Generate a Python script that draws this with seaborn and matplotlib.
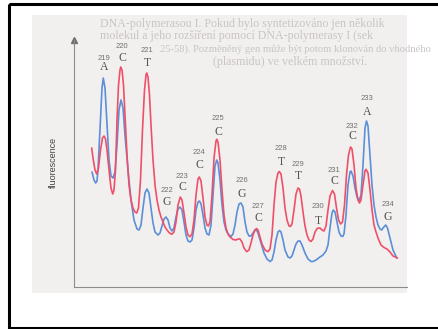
import matplotlib
matplotlib.use("Agg")
import matplotlib.pyplot as plt
import seaborn as sns
import pandas as pd
from matplotlib.patches import Rectangle

# ---------------- data ----------------
blue_pos = [92, 94, 95.7, 97, 98, 100, 102, 103.3, 105, 107, 109, 111, 113, 115, 117, 119, 121, 123, 125, 128,
            131, 134, 137, 139, 141, 143, 145, 147, 149, 151, 153, 155, 158, 160, 162, 164, 166, 168, 170, 172,
            174, 176, 178, 180, 182, 184, 186, 188, 190, 192, 194, 196, 198, 199.5, 201, 203, 205, 207, 209, 211,
            213, 215, 216.7, 218, 220, 222, 224, 226, 228, 231, 233, 235, 237, 239, 241, 243, 245, 247, 249, 251,
            253, 255, 256.5, 258, 261, 264, 267, 270, 272, 274, 276, 278, 279.5, 281, 283, 285, 288, 290, 292, 294,
            296, 298, 300, 302, 305, 308, 311, 313, 316, 320, 323, 326, 328, 330, 332, 333.3, 335, 337, 339, 341,
            342.7, 344, 346, 348, 350, 351, 353, 355, 357, 359, 361, 363, 365, 366.5, 368, 370, 372, 374, 376, 378,
            380, 381.7, 383, 385.7, 387.5, 390, 393, 396.7]
blue_fl = [115, 107, 104, 106, 117, 157, 199, 209, 199, 162, 127, 111, 109, 115, 142, 177, 187, 179, 152, 117,
           87, 67, 58, 57, 62, 79, 94, 98, 94, 79, 64, 55, 52, 54, 61, 68, 70, 67, 59, 56,
           59, 70, 78, 80, 77, 65, 52, 46, 45, 47, 59, 77, 85, 86, 83, 72, 59, 53, 52, 62,
           92, 121, 127, 124, 107, 82, 65, 57, 53, 50.5, 53, 62, 75, 83, 84, 80, 65, 55, 51, 51,
           54, 57, 57, 54, 44, 34, 28, 25.5, 27, 35, 47, 55, 56.5, 55, 47, 37, 30, 29, 31, 37,
           43, 46, 46, 42, 34, 28, 25.5, 25.5, 27, 30, 32, 36, 42, 59, 74, 77, 75, 65, 55, 51,
           50.5, 53, 72, 102, 115, 116, 111, 99, 90, 86, 92, 122, 159, 166, 161, 132, 102, 82, 70, 62,
           58, 57, 59, 62, 59, 49, 37, 29]

red_pos = [91.7, 93, 95, 96.7, 98.5, 100.5, 102.5, 104, 105.5, 107, 109, 111, 112.7, 114, 115.5, 117, 118.5, 120,
           120.7, 122, 123.5, 125, 127, 129, 131, 133, 135, 136.7, 138.5, 140.5, 142.5, 144.5, 146, 146.7, 148,
           149.5, 151, 153, 155, 157, 159, 161, 163, 165, 167, 169.5, 171.7, 174, 176, 178, 180.3, 182, 184, 186,
           188, 190, 192, 194, 196, 198, 199.3, 201, 203, 205, 207, 208.3, 210, 212, 214, 216, 216.7, 218, 220,
           222, 224, 226, 228, 230, 233, 236, 238, 240, 242, 244, 246.7, 249, 251, 253, 255, 256.5, 258, 260,
           262, 265, 268, 270, 272, 274, 276, 278, 279.3, 281, 283, 285, 287, 289, 290.5, 292, 294, 296, 298,
           299.5, 301, 303, 305, 307, 309, 311, 313, 315, 317.3, 320, 322, 324, 326, 328, 330, 332.5, 334.5,
           336.5, 338.5, 340.7, 342.5, 344.5, 346.5, 348.5, 350.5, 352, 354, 356, 358, 359.5, 361, 363, 365, 366,
           368, 370, 372, 374, 376, 378, 381, 384, 387, 390, 393, 397.5]
red_fl = [139, 129, 117, 113, 119, 137, 149, 151, 148, 137, 117, 99, 93, 97, 117, 167, 202, 217,
          220, 217, 202, 172, 132, 102, 87, 79, 75, 74, 79, 107, 157, 197, 212, 214, 210,
          192, 162, 127, 102, 87, 77, 70, 65, 60, 57, 54, 52.7, 55, 65, 82, 90, 87, 74, 60,
          52, 50.3, 53, 67, 92, 108, 110, 106, 89, 70, 62, 61, 65, 92, 129, 146, 147.7, 145, 127,
          97, 72, 59, 53, 50, 47.5, 47, 48, 48, 45, 39, 35.3, 37, 44, 52, 57, 58.5, 57, 50,
          43, 37, 35.3, 38, 52, 82, 105, 114, 115.5, 113, 99, 79, 67, 61, 60.5, 63, 77, 93, 99,
          98, 91, 75, 61, 52, 47, 45.5, 48, 55, 58.7, 59, 57, 56, 61, 77, 91, 96.5, 93,
          79, 67, 63, 65, 82, 112, 132, 140, 138, 122, 99, 87, 84, 87, 102, 116, 117.7,
          114, 97, 77, 62, 55, 49, 42, 39.5, 38, 35, 31, 29]

label_num = ["219", "220", "221", "222", "223", "224", "225", "226", "227", "228", "229", "230", "231", "232", "233", "234"]
label_base = ["A", "C", "T", "G", "C", "C", "C", "G", "C", "T", "T", "T", "C", "C", "A", "G"]
label_x = [104, 122, 147, 167, 182, 199, 218, 242, 258, 281, 298, 318, 334, 352, 367, 388]
label_num_y = [229, 240, 237, 97, 111, 134, 169, 106, 81, 139, 123, 80, 117, 161, 189, 82]
label_base_y = [220, 229, 224, 85, 100, 122, 155, 93, 69, 125, 111, 66, 106, 151, 175, 70]

bg_text = ["DNA-polymerasou I. Pokud bylo syntetizováno jen několik",
           "molekul a jeho rozšíření pomocí DNA-polymerasy I (sek",
           "25-58). Pozměněný gen může být potom klonován do vhodného",
           "(plasmidu) ve velkém množství."]

# ---------------- figure ----------------
sns.set_theme(style="white")
W, H = 439, 329
fig = plt.figure(figsize=(W / 100, H / 100), dpi=100)
fig.patch.set_facecolor("white")

# overlay in pixel coordinates (frame, scanned page background)
bg = fig.add_axes([0, 0, 1, 1], zorder=0)
bg.set_xlim(0, W)
bg.set_ylim(H, 0)
bg.axis("off")
bg.add_patch(Rectangle((32, 15), 375, 278, facecolor="#f2f0ef", edgecolor="none"))
bg.add_patch(Rectangle((9.5, 3.5), 445, 324.5, facecolor="none", edgecolor="black", linewidth=2.2))
bg_x = [100, 100, 160, 213]
bg_size = [8.6, 8.6, 7.6, 8.6]
for i, line in enumerate(bg_text):
    bg.text(bg_x[i], 24 + 12.5 * i, line, fontsize=bg_size[i], family="Liberation Serif", color="#cac4c4",
            va="center", ha="left", clip_on=True)
bg.text(53, 162, "fluorescence", rotation=90, fontsize=6.5, family="Liberation Sans",
        color="#444444", ha="center", va="center")

# main chart
ax = fig.add_axes([74 / W, (H - 287) / H, (407 - 74) / W, (287 - 40) / H], zorder=1)
ax.patch.set_alpha(0)
blue_df = pd.DataFrame({"pos": blue_pos, "fl": blue_fl})
red_df = pd.DataFrame({"pos": red_pos, "fl": red_fl})
sns.lineplot(data=blue_df, x="pos", y="fl", color="#5b8fd8", linewidth=1.2, estimator=None, sort=False, ax=ax)
sns.lineplot(data=red_df, x="pos", y="fl", color="#ef5069", linewidth=1.2, estimator=None, sort=False, ax=ax)
ax.set_xlim(74, 407)
ax.set_ylim(0, 247)
ax.set_xticks([])
ax.set_yticks([])
ax.set_xlabel("")
ax.set_ylabel("")
for s in ["top", "right"]:
    ax.spines[s].set_visible(False)
for s in ["left", "bottom"]:
    ax.spines[s].set_color("#8c8c8c")
    ax.spines[s].set_linewidth(0.8)
ax.plot([0], [1], marker="^", markersize=4, color="#707070", transform=ax.transAxes, clip_on=False)

for x, n, b, ny, by in zip(label_x, label_num, label_base, label_num_y, label_base_y):
    ax.text(x, ny, n, fontsize=5.5, color="#707070", family="Liberation Sans", ha="center", va="center")
    ax.text(x, by, b, fontsize=8.5, color="#555555", family="Liberation Serif", ha="center", va="center")

fig.savefig("out.png", dpi=100)
